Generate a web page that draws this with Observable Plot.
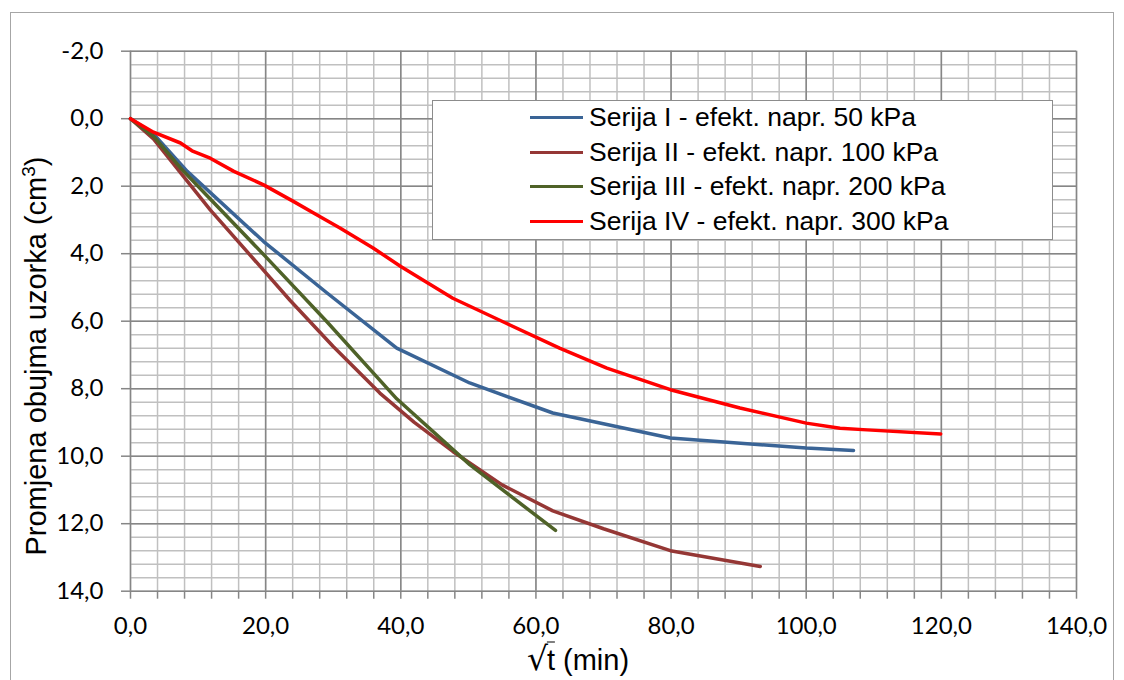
<!DOCTYPE html>
<html>
<head>
<meta charset="utf-8">
<script src="https://cdn.jsdelivr.net/npm/d3@7"></script>
<script src="https://cdn.jsdelivr.net/npm/@observablehq/plot@0.6"></script>
<style>
  html, body { margin: 0; padding: 0; background: #fff; overflow: hidden; }
  #wrap { position: relative; width: 1124px; height: 680px; overflow: hidden; }
  #frame { position: absolute; left: 10px; top: 12px; width: 1104px; height: 720px; border: 1.5px solid #a6a6a6; box-sizing: border-box; }
  #chart { position: absolute; left: 0; top: 0; }
  #ylabel { position: absolute; left: 36px; top: 356px; transform: translate(-50%, -50%) rotate(-90deg); white-space: nowrap;
            font-family: "Liberation Sans", Arial, sans-serif; font-size: 29px; color: #000; }
  #ylabel sup { font-size: 19px; vertical-align: 11px; line-height: 0; }
  #xlabel { position: absolute; left: 578px; top: 658px; transform: translate(-50%, -50%); white-space: nowrap;
            font-family: "Liberation Sans", Arial, sans-serif; font-size: 29px; color: #000; }
  #xlabel .rad { font-family: "DejaVu Sans", sans-serif; font-size: 33px; }
  #xlabel .ov { border-top: 1.6px solid #000; padding-top: 1px; margin-left: -1px; }
  #legend { position: absolute; left: 432px; top: 100px; width: 621px; height: 140px; background: #fff;
            border: 1.5px solid #8c8c8c; box-sizing: border-box; }
  .lrow { position: absolute; left: 0; height: 32px; display: flex; align-items: center; }
  .lline { width: 53px; height: 3.5px; margin-left: 97px; margin-right: 6px; }
  .ltext { font-family: "Liberation Sans", Arial, sans-serif; font-size: 26.5px; color: #000; white-space: nowrap; }
</style>
</head>
<body>
<div id="wrap">
  <div id="frame"></div>
  <div id="chart"></div>
  <div id="legend"></div>
  <div id="ylabel">Promjena obujma uzorka (cm<sup>3</sup>)</div>
  <div id="xlabel"><span class="rad">√</span><span class="ov">t</span> (min)</div>
</div>
<script>
// ---- data ----
const seriesNames = [
  "Serija I - efekt. napr. 50 kPa",
  "Serija II - efekt. napr. 100 kPa",
  "Serija III - efekt. napr. 200 kPa",
  "Serija IV - efekt. napr. 300 kPa"
];
const seriesColors = ["#3a6496", "#953735", "#4f6228", "#ff0000"];

const s1x = [0, 3.4, 8.4, 19.7, 29.0, 39.4, 50.2, 62.5, 79.9, 100.0, 107.0];
const s1y = [0, 0.45, 1.56, 3.64, 5.15, 6.80, 7.83, 8.72, 9.46, 9.76, 9.83];

const s2x = [0, 3.4, 11.8, 23.6, 30.0, 36.9, 42.0, 47.7, 55.0, 62.5, 70.0, 79.9, 93.2];
const s2y = [0, 0.60, 2.70, 5.38, 6.75, 8.13, 9.00, 9.86, 10.85, 11.62, 12.15, 12.80, 13.27];

const s3x = [0, 3.4, 7.4, 20.2, 29.0, 39.4, 50.2, 62.9];
const s3y = [0, 0.52, 1.46, 4.13, 6.00, 8.30, 10.25, 12.20];

const s4x = [0, 3.4, 7.4, 9.1, 11.8, 15.3, 19.7, 24.1, 28.0, 31.0, 35.9, 40.0, 47.7, 55.6, 63.5, 70.5, 79.9, 90.2, 100.0, 105.0, 109.0, 119.9];
const s4y = [0, 0.40, 0.72, 0.95, 1.17, 1.56, 1.96, 2.45, 2.90, 3.24, 3.83, 4.38, 5.32, 6.06, 6.80, 7.39, 8.03, 8.57, 9.02, 9.17, 9.22, 9.34];

const xTicksMinor = d3.range(0, 141, 4);
const xTicksMajor = d3.range(0, 141, 20);
const yTicksMinor = d3.range(0, 41).map(i => -2 + i * 0.4);
const yTicksMajor = d3.range(-2, 15, 2);

// ---- build ----
const allX = [s1x, s2x, s3x, s4x];
const allY = [s1y, s2y, s3y, s4y];
const rows = [];
allX.forEach((xs, k) => xs.forEach((xv, i) => rows.push({series: seriesNames[k], x: xv, y: allY[k][i]})));

const fmt = d => d.toFixed(1).replace(".", ",");
const minorColor = "#c0c0c0", majorColor = "#868686";

const chart = Plot.plot({
  width: 1124,
  height: 680,
  marginLeft: 130,
  marginRight: 48,
  marginTop: 50.7,
  marginBottom: 89.3,
  style: {fontFamily: "Lato, 'Liberation Sans', sans-serif", fontSize: "24px", color: "#000", background: "transparent", overflow: "visible"},
  x: {domain: [0, 140]},
  y: {domain: [-2, 14], reverse: true},
  color: {domain: seriesNames, range: seriesColors},
  marks: [
    Plot.ruleX(xTicksMinor, {stroke: minorColor, strokeWidth: 1.5}),
    Plot.ruleY(yTicksMinor, {stroke: minorColor, strokeWidth: 1.5}),
    Plot.ruleX(xTicksMajor, {stroke: majorColor, strokeWidth: 1.5}),
    Plot.ruleY(yTicksMajor, {stroke: majorColor, strokeWidth: 1.5}),
    Plot.axisX({ticks: xTicksMinor, tickSize: 8, tickPadding: 18, label: null,
      tickFormat: d => d % 20 === 0 ? fmt(d) : "", stroke: majorColor, strokeWidth: 1.5, fontSize: 24}),
    Plot.axisY({ticks: yTicksMajor, tickSize: 9, tickPadding: 18, label: null,
      tickFormat: fmt, stroke: majorColor, strokeWidth: 1.5, fontSize: 24}),
    Plot.line(rows, {x: "x", y: "y", z: "series", stroke: "series", strokeWidth: 3.5,
      strokeLinejoin: "round", strokeLinecap: "round"})
  ]
});
document.getElementById("chart").appendChild(chart);

// legend
const legend = document.getElementById("legend");
const rowCenters = [18, 53, 87, 122];
seriesNames.forEach((name, i) => {
  const r = document.createElement("div");
  r.className = "lrow";
  r.style.top = (rowCenters[i] - 16 - 1.5) + "px";
  const l = document.createElement("div");
  l.className = "lline";
  l.style.background = seriesColors[i];
  const t = document.createElement("span");
  t.className = "ltext";
  t.textContent = name;
  r.appendChild(l); r.appendChild(t);
  legend.appendChild(r);
});
</script>
</body>
</html>
